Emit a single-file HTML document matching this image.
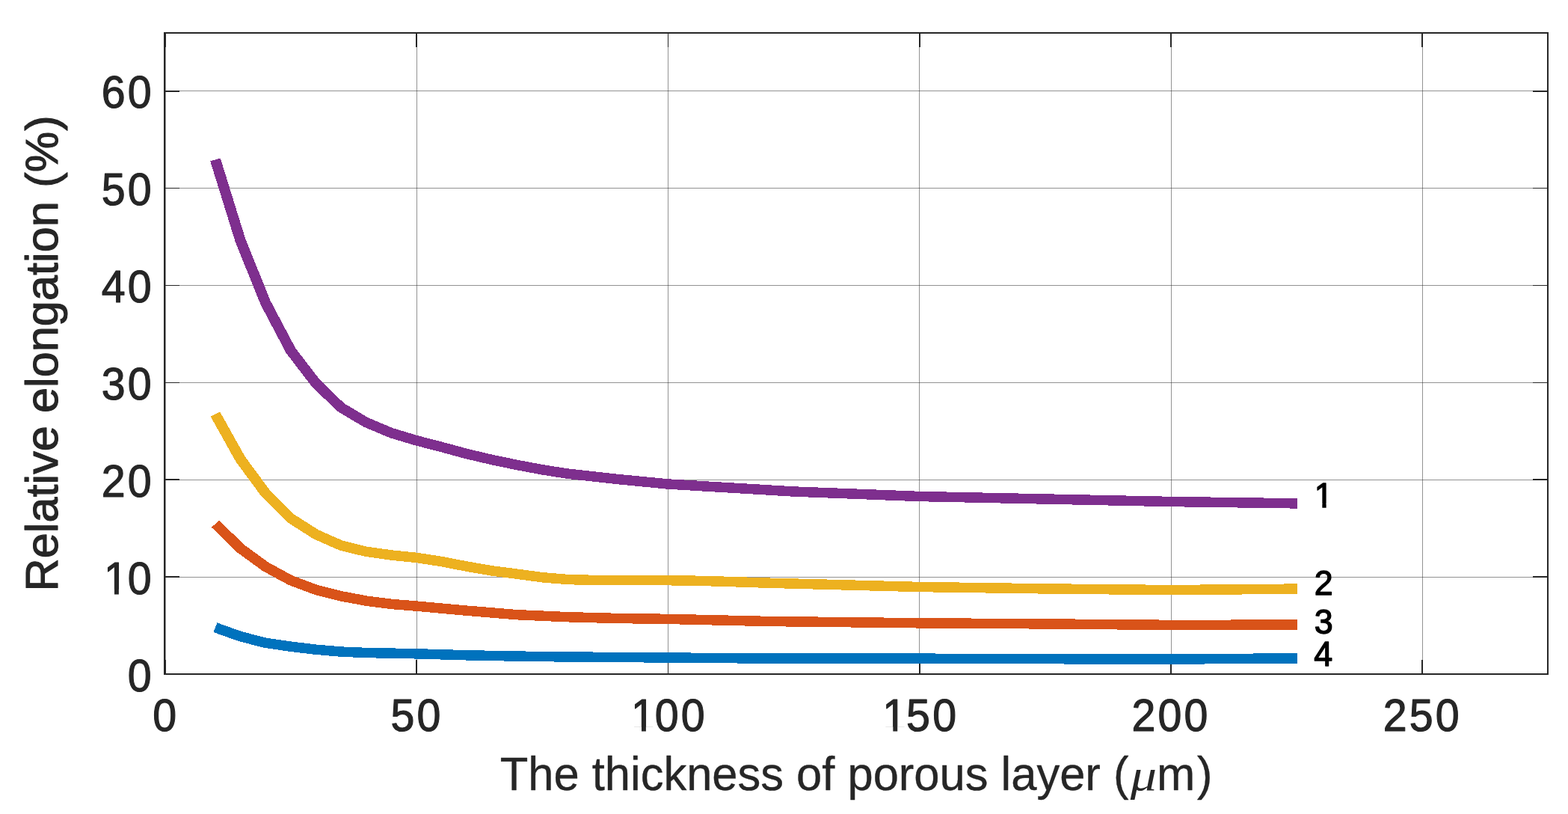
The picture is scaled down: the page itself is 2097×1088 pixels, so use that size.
<!DOCTYPE html>
<html lang="en">
<head>
<meta charset="utf-8">
<title>Relative elongation vs thickness of porous layer</title>
<style>
html,body{margin:0;padding:0;background:#fff;}
body{width:2097px;height:1088px;overflow:hidden;}
svg{display:block;}
text{font-family:"Liberation Sans",sans-serif;}
.tk,.lb{font-size:62px;fill:#262626;stroke:#262626;stroke-width:1.2px;stroke-linejoin:round;}
.lb{stroke-width:0.4px;}
.yl{stroke-width:1.1px;}
.an{font-size:46.2px;fill:#000;stroke:#000;stroke-width:1.4px;stroke-linejoin:round;}
.mu{font-family:"Liberation Serif","DejaVu Serif",serif;font-style:italic;font-size:58px;stroke-width:0;}
</style>
</head>
<body>
<svg width="2097" height="1088" viewBox="0 0 2097 1088" role="img" aria-label="Relative elongation versus thickness of porous layer">
<rect x="0" y="0" width="2097" height="1088" fill="#ffffff"/>
<defs><clipPath id="plot"><rect x="221" y="45" width="1848" height="855"/></clipPath></defs>
<g fill="#262626" fill-opacity="0.5" shape-rendering="crispEdges">
<rect x="221" y="45" width="1" height="855"/>
<rect x="557" y="45" width="1" height="855"/>
<rect x="893" y="45" width="1" height="855"/>
<rect x="1229" y="45" width="1" height="855"/>
<rect x="1566" y="45" width="1" height="855"/>
<rect x="1902" y="45" width="1" height="855"/>
<rect x="221" y="771" width="1848" height="1"/>
<rect x="221" y="641" width="1848" height="1"/>
<rect x="221" y="511" width="1848" height="1"/>
<rect x="221" y="381" width="1848" height="1"/>
<rect x="221" y="251" width="1848" height="1"/>
<rect x="221" y="121" width="1848" height="1"/>
</g>
<g fill="#262626" shape-rendering="crispEdges">
<rect x="219" y="43" width="1852" height="2"/>
<rect x="219" y="900" width="1852" height="2"/>
<rect x="219" y="43" width="2" height="859"/>
<rect x="2069" y="43" width="2" height="859"/>
<rect x="220" y="45" width="2" height="18"/>
<rect x="220" y="882" width="2" height="18"/>
<rect x="556" y="45" width="2" height="18"/>
<rect x="556" y="882" width="2" height="18"/>
<rect x="893" y="45" width="1" height="18"/>
<rect x="893" y="882" width="1" height="18"/>
<rect x="1229" y="45" width="2" height="18"/>
<rect x="1229" y="882" width="2" height="18"/>
<rect x="1565" y="45" width="2" height="18"/>
<rect x="1565" y="882" width="2" height="18"/>
<rect x="1901" y="45" width="2" height="18"/>
<rect x="1901" y="882" width="2" height="18"/>
<rect x="221" y="770" width="19" height="2"/>
<rect x="2050" y="770" width="19" height="2"/>
<rect x="221" y="640" width="19" height="2"/>
<rect x="2050" y="640" width="19" height="2"/>
<rect x="221" y="511" width="19" height="1"/>
<rect x="2050" y="511" width="19" height="1"/>
<rect x="221" y="381" width="19" height="1"/>
<rect x="2050" y="381" width="19" height="1"/>
<rect x="221" y="251" width="19" height="1"/>
<rect x="2050" y="251" width="19" height="1"/>
<rect x="221" y="121" width="19" height="2"/>
<rect x="2050" y="121" width="19" height="2"/>
</g>
<g clip-path="url(#plot)"><g fill="none" stroke-width="13.5" stroke-linejoin="round" stroke-linecap="butt" shape-rendering="crispEdges" transform="scale(1.05,1)">
<polyline stroke="#0072BD" points="274.25,838.7 306.28,850.7 338.31,859.3 370.34,864.2 402.37,868.2 434.40,871.1 466.43,872.5 530.49,873.8 594.54,875.8 658.60,877.1 722.66,878.0 850.78,879.0 978.90,880.1 1171.08,880.2 1331.22,880.7 1491.37,881.1 1652.48,879.8"/>
<polyline stroke="#D95319" points="274.25,700.2 306.28,733.0 338.31,757.5 370.34,775.7 402.37,788.3 434.40,796.8 466.43,803.1 498.46,807.4 530.49,810.1 594.54,816.2 658.60,821.7 722.66,824.7 786.72,826.5 850.78,827.4 978.90,830.5 1171.08,832.8 1331.22,833.9 1491.37,835.4 1652.48,835.1"/>
<polyline stroke="#EDB120" points="274.25,553.6 306.28,613.8 338.31,659.3 370.34,692.8 402.37,714.2 434.40,729.1 466.43,737.3 498.46,742.0 530.49,745.4 562.52,750.6 594.54,757.1 626.57,762.9 658.60,767.2 690.63,771.7 722.66,774.5 754.69,775.4 786.72,775.7 850.78,775.7 882.81,776.2 914.84,777.0 978.90,779.2 1171.08,784.5 1331.22,786.9 1491.37,788.6 1652.48,787.1"/>
<polyline stroke="#7E2F8E" points="274.25,213.4 306.28,321.6 338.31,404.8 370.34,468.5 402.37,512.3 434.40,544.7 466.43,564.6 498.46,578.7 530.49,588.8 562.52,597.5 594.54,606.6 626.57,614.5 658.60,621.5 690.63,627.8 722.66,633.1 786.72,640.5 850.78,647.0 1010.93,657.0 1171.08,663.5 1491.37,670.5 1652.48,672.9"/>
</g></g>
<g class="tk">
<g transform="translate(221.80,977.40) scale(0.925,1)"><text x="-18.94" y="0">0</text></g>
<g transform="translate(557.61,977.40) scale(0.925,1)"><text x="-37.88 0.00" y="0">50</text></g>
<g transform="translate(893.32,977.40) scale(0.925,1)"><text x="-53.32 -18.94 18.94" y="0">100</text><rect x="-50.55" y="-5.98" width="12.37" height="7.33" fill="#fff" stroke="none"/><rect x="-31.80" y="-5.98" width="11.88" height="7.33" fill="#fff" stroke="none"/></g>
<g transform="translate(1229.63,977.40) scale(0.925,1)"><text x="-53.32 -18.94 18.94" y="0">150</text><rect x="-50.55" y="-5.98" width="12.37" height="7.33" fill="#fff" stroke="none"/><rect x="-31.80" y="-5.98" width="11.88" height="7.33" fill="#fff" stroke="none"/></g>
<g transform="translate(1565.94,977.40) scale(0.925,1)"><text x="-56.82 -18.94 18.94" y="0">200</text></g>
<g transform="translate(1902.25,977.40) scale(0.925,1)"><text x="-56.82 -18.94 18.94" y="0">250</text></g>
<g transform="translate(205.80,923.70) scale(0.925,1)"><text x="-37.88" y="0">0</text></g>
<g transform="translate(205.80,793.70) scale(0.925,1)"><text x="-72.26 -37.88" y="0">10</text><rect x="-69.49" y="-5.98" width="12.37" height="7.33" fill="#fff" stroke="none"/><rect x="-50.74" y="-5.98" width="11.88" height="7.33" fill="#fff" stroke="none"/></g>
<g transform="translate(205.80,663.70) scale(0.925,1)"><text x="-75.76 -37.88" y="0">20</text></g>
<g transform="translate(205.80,533.70) scale(0.925,1)"><text x="-75.76 -37.88" y="0">30</text></g>
<g transform="translate(205.80,403.70) scale(0.925,1)"><text x="-75.76 -37.88" y="0">40</text></g>
<g transform="translate(205.80,273.70) scale(0.925,1)"><text x="-75.76 -37.88" y="0">50</text></g>
<g transform="translate(205.80,143.70) scale(0.925,1)"><text x="-75.76 -37.88" y="0">60</text></g>
</g>
<text class="lb" transform="translate(668.7,1055.8) scale(0.992,1.02)" text-anchor="start">The thickness of porous layer (<tspan class="mu" dx="2.4" textLength="35.6" lengthAdjust="spacingAndGlyphs">μ</tspan><tspan dx="0">m</tspan><tspan dx="2.8">)</tspan></text>
<text class="lb yl" transform="translate(77.3,790.5) rotate(-90) scale(0.9887,0.99)" text-anchor="start">Relative elongation <tspan dx="1.5">(%</tspan><tspan dx="1">)</tspan></text>
<g class="an">
<g transform="translate(1770.20,678.00) scale(0.97,1)"><text x="-12.85" y="0">1</text><rect x="-11.53" y="-5.05" width="9.60" height="6.65" fill="#fff" stroke="none"/><rect x="3.55" y="-5.05" width="9.24" height="6.65" fill="#fff" stroke="none"/></g>
<g transform="translate(1770.20,795.40) scale(0.97,1)"><text x="-12.85" y="0">2</text></g>
<g transform="translate(1770.20,847.40) scale(0.97,1)"><text x="-12.85" y="0">3</text></g>
<g transform="translate(1769.60,890.00) scale(0.97,1)"><text x="-12.85" y="0">4</text></g>
</g>
</svg>
</body>
</html>
